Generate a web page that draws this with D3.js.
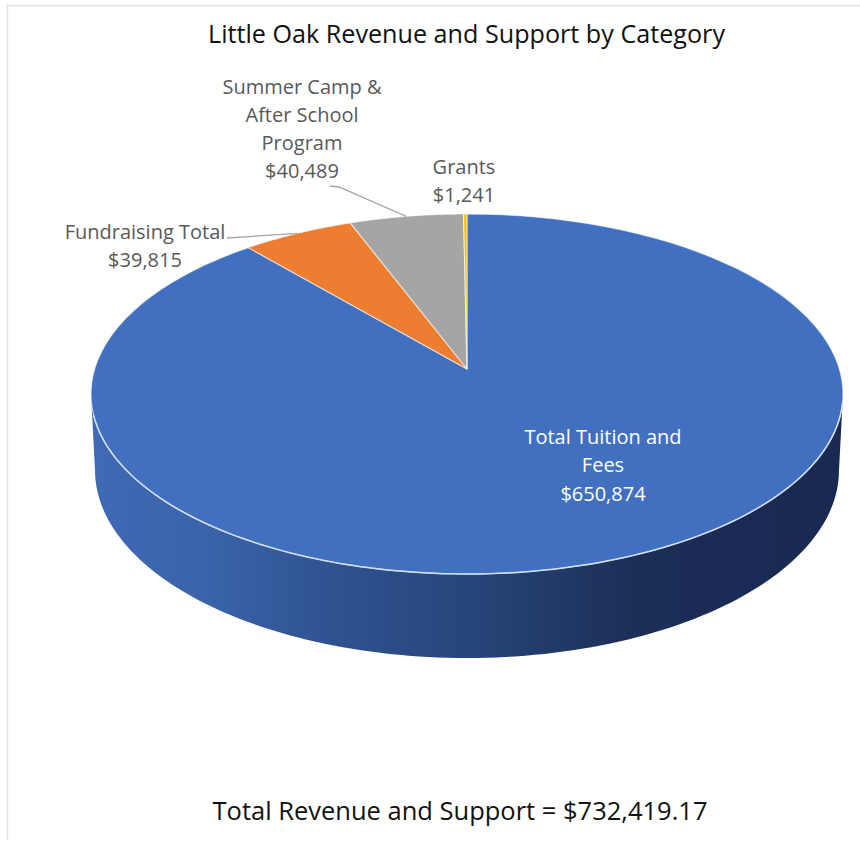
<!DOCTYPE html>
<html><head><meta charset="utf-8">
<script src="https://cdn.jsdelivr.net/npm/d3@7"></script>
<style>html,body{margin:0;padding:0;background:#fff}svg{display:block}text{font-family:"Open Sans",sans-serif}</style>
</head><body><div id="chart"></div>
<script>
const categories = ["Total Tuition and Fees","Fundraising Total","Summer Camp & After School Program","Grants"];
const values = [650874,39815,40489,1241];
const valueLabels = ["$650,874","$39,815","$40,489","$1,241"];
const colors = ["#4270c0","#ed7d31","#a5a5a5","#ffc000"];
const titleText = "Little Oak Revenue and Support by Category";
const footerText = "Total Revenue and Support = $732,419.17";

const W=860,H=841;
const svg=d3.select("#chart").append("svg").attr("width",W).attr("height",H);
const upper={cx:467,cy:394,rx:376,ry:180}, low={cx:467,cy:470,rx:372,ry:188};
const persp=0.88;
const toT=a=>{ // pie angle -> ellipse parameter (perspective foreshortening)
  const n=((a+Math.PI)%(2*Math.PI)+2*Math.PI)%(2*Math.PI)-Math.PI;
  return 2*Math.atan(persp*Math.tan(n/2));
};
const pt=(e,t)=>[e.cx+e.rx*Math.sin(t),e.cy-e.ry*Math.cos(t)];
const apex=[upper.cx,369];
const pie=d3.pie().sort(null).value(d=>d)(values);

const defs=svg.append("defs");
const grad=defs.append("linearGradient").attr("id","wall").attr("gradientUnits","userSpaceOnUse")
  .attr("x1",upper.cx-upper.rx).attr("x2",upper.cx+upper.rx).attr("y1",0).attr("y2",0);
[[0,"#3f6ab5"],[.16,"#3a63a9"],[.32,"#2f5291"],[.52,"#264477"],[.72,"#1c2f57"],[.82,"#1a2c55"],[1,"#182a52"]]
  .forEach(([o,c])=>grad.append("stop").attr("offset",o).attr("stop-color",c));

// side wall
const line=d3.line();
const rng=(e,a,b)=>d3.range(0,121).map(i=>pt(e,a+(b-a)*i/120));
const wall=rng(upper,Math.PI/2,3*Math.PI/2).concat(rng(low,3*Math.PI/2,Math.PI/2));
svg.append("path").attr("d",line(wall)+"Z").attr("fill","url(#wall)");

// top slices
const slice=d=>{
  let a=toT(d.startAngle), b=toT(d.endAngle-1e-6);
  if(b<a) b+=2*Math.PI;
  return line([apex].concat(rng(upper,a,b)))+"Z";
};
svg.append("g").selectAll("path").data(pie).join("path")
  .attr("d",slice).attr("fill",(d,i)=>colors[i])
  .attr("stroke","#ffffff").attr("stroke-opacity",.6).attr("stroke-width",1.1).attr("stroke-linejoin","round");

// bright rim along the front of the top face
svg.append("path").attr("d",line(rng(upper,Math.PI/2+0.05,3*Math.PI/2-0.12)))
  .attr("fill","none").attr("stroke","#d3dff2").attr("stroke-width",1.5);

// leader lines end on the rim at each slice's mid angle
const rimMid=d=>pt(upper,toT((d.startAngle+d.endAngle)/2));
const leaders=[{i:1,pts:[[227,238]]},{i:2,pts:[[330,186],[339,187]]}];
svg.append("g").selectAll("path").data(leaders).join("path")
  .attr("d",l=>line(l.pts.concat([rimMid(pie[l.i])])))
  .attr("fill","none").attr("stroke","#a6a6a6").attr("stroke-width",1.3);

// text
const txt=(x,y,s,size,fill,len)=>{
  const t=svg.append("text").attr("x",x).attr("y",y).attr("text-anchor","middle")
    .attr("font-size",size).attr("fill",fill).text(s);
  if(len) t.attr("textLength",len).attr("lengthAdjust","spacingAndGlyphs");
  return t;
};
txt(466.5,43,titleText,25,"#111111",517);
txt(460,820,footerText,26,"#111111",495);
const gray="#595959";
[["Summer Camp &",94],["After School",122],["Program",150],[valueLabels[2],178]].forEach(([s,y])=>txt(302,y,s,20,gray));
[["Fundraising Total",239],[valueLabels[1],267]].forEach(([s,y])=>txt(145,y,s,20,gray));
[["Grants",174],[valueLabels[3],202]].forEach(([s,y])=>txt(464,y,s,20,gray));
[["Total Tuition and",444],["Fees",472],[valueLabels[0],501]].forEach(([s,y])=>txt(603,y,s,20,"#ffffff"));

// frame edge of the screenshot
svg.append("path").attr("d",line([[7.5,840],[7.5,5.5],[860,5.5]])).attr("fill","none").attr("stroke","#e2e2e2").attr("stroke-width",1.5);
</script></body></html>
